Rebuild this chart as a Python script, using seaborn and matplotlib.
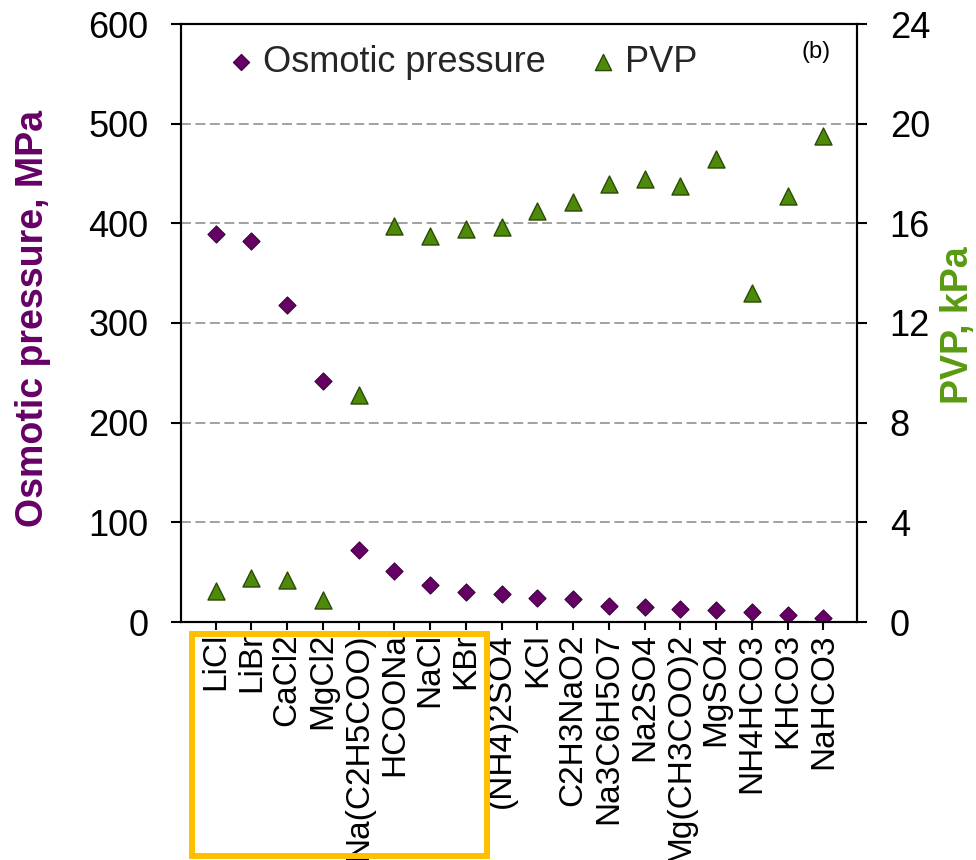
import matplotlib
matplotlib.use("Agg")
import matplotlib.pyplot as plt
from matplotlib.patches import Rectangle
import seaborn as sns
import pandas as pd

salts = ["LiCl", "LiBr", "CaCl2", "MgCl2", "Na(C2H5COO)", "HCOONa", "NaCl", "KBr",
         "(NH4)2SO4", "KCl", "C2H3NaO2", "Na3C6H5O7", "Na2SO4", "Mg(CH3COO)2",
         "MgSO4", "NH4HCO3", "KHCO3", "NaHCO3"]
osmotic_mpa = [389, 382, 318, 242, 72, 51, 37, 30, 28.5, 24, 23.3, 16.2, 15.2, 13.1,
               11.8, 9.8, 7.4, 4.0]
pvp_kpa = [1.24, 1.78, 1.67, 0.87, 9.11, 15.9, 15.49, 15.76, 15.84, 16.5, 16.85,
           17.57, 17.79, 17.49, 18.57, 13.19, 17.08, 19.49]
left_ticks = [0, 100, 200, 300, 400, 500, 600]
right_ticks = [0, 4, 8, 12, 16, 20, 24]

df = pd.DataFrame({"salt": salts, "osmotic": osmotic_mpa, "pvp": pvp_kpa})

sns.set_theme(style="white")
plt.rcParams["font.family"] = ["Liberation Sans", "DejaVu Sans"]

PURPLE = "#660066"
PURPLE_EDGE = "#3A003A"
GREEN = "#4E8A0A"
GREEN_EDGE = "#2A4A06"
GREEN_LABEL = "#5A9A12"

fig = plt.figure(figsize=(9.76, 8.6), dpi=100)
ax = fig.add_axes([181 / 976, 1 - 622 / 860, 676 / 976, 598 / 860])
ax2 = ax.twinx()

sns.scatterplot(data=df, x="salt", y="osmotic", ax=ax, marker="D", s=76,
                color=PURPLE, edgecolor=PURPLE_EDGE, linewidth=0.8,
                label="Osmotic pressure", legend=False, zorder=3)
sns.scatterplot(data=df, x="salt", y="pvp", ax=ax2, marker="^", s=150,
                color=GREEN, edgecolor=GREEN_EDGE, linewidth=1.0,
                label="PVP", legend=False, zorder=3)

ax.set_xlim(-0.97, 17.94)
ax.set_ylim(0, 600)
ax2.set_ylim(0, 24)
ax.set_yticks(left_ticks)
ax2.set_yticks(right_ticks)
ax.set_yticklabels([str(t) for t in left_ticks])
ax2.set_yticklabels([str(t) for t in right_ticks])

ax.yaxis.grid(True, color="#9a9a9a", linestyle=(0, (5.5, 2.5)), linewidth=1.3)
ax.xaxis.grid(False)
ax2.grid(False)
ax.set_axisbelow(True)

for a in (ax, ax2):
    for sp in a.spines.values():
        sp.set_color("black")
        sp.set_linewidth(1.5)
        sp.set_visible(True)

ax.tick_params(axis="y", which="major", direction="out", length=7.5, width=1.5,
               pad=16, labelsize=26, colors="black", left=True)
ax2.tick_params(axis="y", which="major", direction="out", length=7.5, width=1.5,
                pad=16, labelsize=26, colors="black", right=True)
ax.tick_params(axis="x", which="major", direction="out", length=6, width=1.5,
               pad=2, labelsize=24, colors="black", bottom=True)
for lbl in ax.get_xticklabels():
    lbl.set_rotation(90)
    lbl.set_va("top")
    lbl.set_ha("center")

ax.set_xlabel("")
ax.set_ylabel("Osmotic pressure, MPa", color=PURPLE, fontsize=27, fontweight="bold")
ax.yaxis.set_label_coords(-0.192, 0.507)
ax2.set_ylabel("PVP, kPa", color=GREEN_LABEL, fontsize=27, fontweight="bold")
ax2.yaxis.set_label_coords(1.123, 0.496)

h1 = ax.collections[0]
h2 = ax2.collections[0]
leg = ax2.legend([h1, h2], ["Osmotic pressure", "PVP"], loc="center left",
                 bbox_to_anchor=(0.0725, 0.936), ncol=2, frameon=False,
                 fontsize=26, handlelength=0.6, handletextpad=0.3,
                 columnspacing=1.3, borderpad=0, markerscale=0.95,
                 borderaxespad=0)

ax2.text(0.939, 0.953, "(b)", transform=ax.transAxes, fontsize=17,
         ha="center", va="center", color="black")

fig.add_artist(Rectangle((192 / 976, 1 - 856 / 860), (487 - 192) / 976,
                         (856 - 634) / 860, transform=fig.transFigure,
                         fill=False, edgecolor="#FFC000", linewidth=4.3,
                         clip_on=False))

fig.savefig("out.png", dpi=100)
